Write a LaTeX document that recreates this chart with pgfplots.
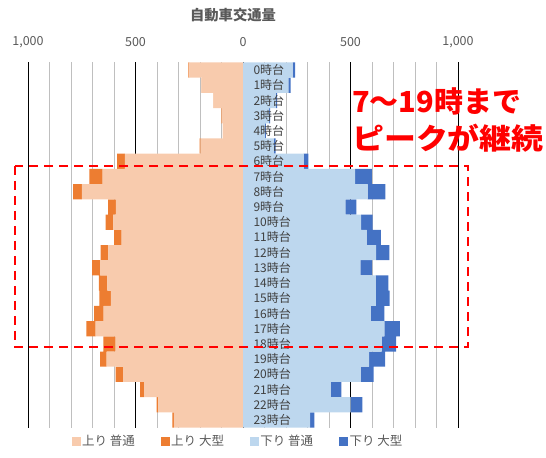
\documentclass[border=0pt]{standalone}
\usepackage{pgfplots}
\pgfplotsset{compat=1.18}
\usepackage{pgfplotstable}
\usepackage{fontspec}
\setmainfont{Noto Sans CJK JP}
\definecolor{upn}{HTML}{F8CBAD}
\definecolor{upl}{HTML}{ED7D31}
\definecolor{dnn}{HTML}{BDD7EE}
\definecolor{dnl}{HTML}{4472C4}
\definecolor{txt}{HTML}{595959}
\definecolor{lab}{HTML}{404040}
\definecolor{gridc}{HTML}{BFBFBF}
\pgfplotstableread{
h un ul dn dl
0 250 4 231 12
1 190 3 211 11
2 135 2 153 6
3 100 2 122 4
4 92 2 102 4
5 197 5 144 8
6 549 36 282 22
7 653 62 521 78
8 750 40 580 82
9 591 36 476 51
10 603 36 549 54
11 564 36 575 66
12 626 36 619 62
13 665 37 546 54
14 631 39 617 59
15 615 53 618 64
16 648 45 594 64
17 685 43 657 73
18 592 57 645 67
19 634 31 587 74
20 557 35 547 60
21 460 19 408 50
22 394 8 501 54
23 321 8 312 20
}\traffic
\begin{document}
\begin{tikzpicture}
\path[use as bounding box] (0bp,0bp) rectangle (546bp,458bp);
\pgfplotsset{
  common/.style={
    at={(28bp,30.4bp)}, anchor=south west,
    scale only axis, width=430bp, height=365.2bp,
    xmin=-1000, xmax=1000, ymin=-0.5, ymax=23.5, y dir=reverse,
    xbar stacked, bar width=1,
    axis line style={draw=none},
    major tick length=0, minor tick length=0,
    /pgf/number format/assume math mode=true,
  }
}
\begin{axis}[common,
  xtick={-500,0,500},
  xticklabels={500,0,500},
  minor xtick={-900,-800,-700,-600,-400,-300,-200,-100,100,200,300,400,600,700,800,900},
  xticklabel pos=upper,
  xticklabel style={anchor=center, yshift=20.4bp, font=\fontsize{12.5bp}{14bp}\selectfont, text=txt},
  xmajorgrids, xminorgrids,
  major grid style={draw=black, line width=0.8bp},
  minor grid style={draw=gridc, line width=0.9bp},
  extra x ticks={-1000,1000},
  extra x tick labels={1{,}000,1{,}000},
  extra x tick style={grid style={draw=gray, line width=1.6bp}},
  ytick=\empty,
]
\addplot[fill=upn, draw=none] table[x expr=-\thisrow{un}, y=h]{\traffic};
\addplot[fill=upl, draw=none] table[x expr=-\thisrow{ul}, y=h]{\traffic};
\end{axis}
\begin{axis}[common,
  axis on top,
  xtick=\empty,
  ytick={0,...,23},
  yticklabels={0時台,1時台,2時台,3時台,4時台,5時台,6時台,7時台,8時台,9時台,10時台,11時台,12時台,13時台,14時台,15時台,16時台,17時台,18時台,19時台,20時台,21時台,22時台,23時台},
  yticklabel style={anchor=west, xshift=222bp, font=\fontsize{12bp}{13bp}\selectfont, text=lab},
  legend columns=4,
  legend style={at={(0.5,0)}, anchor=north, xshift=-5bp, yshift=-3bp, draw=none, fill=none,
    font=\fontsize{12.5bp}{14bp}\selectfont, text=txt,
    /tikz/every even column/.append style={column sep=24bp}},
]
\addplot[fill=dnn, draw=none, forget plot] table[x=dn, y=h]{\traffic};
\addplot[fill=dnl, draw=none, forget plot] table[x=dl, y=h]{\traffic};
\addlegendimage{legend image code/.code={\fill[upn] (0bp,-4bp) rectangle (8bp,4bp);}}
\addlegendentry{上り 普通}
\addlegendimage{legend image code/.code={\fill[upl] (0bp,-4bp) rectangle (8bp,4bp);}}
\addlegendentry{上り 大型}
\addlegendimage{legend image code/.code={\fill[dnn] (0bp,-4bp) rectangle (8bp,4bp);}}
\addlegendentry{下り 普通}
\addlegendimage{legend image code/.code={\fill[dnl] (0bp,-4bp) rectangle (8bp,4bp);}}
\addlegendentry{下り 大型}
\end{axis}
\node[text=txt, font=\fontsize{14.3bp}{16bp}\selectfont\bfseries] at (233bp,443bp) {自動車交通量};
\draw[red, line width=2.8bp, dash pattern=on 9bp off 6bp] (15bp,292bp) rectangle (468bp,111bp);
\node[anchor=west, inner sep=0pt, text=red, font=\fontsize{29bp}{32bp}\selectfont\bfseries] at (352bp,357bp) {7～19時まで};
\node[anchor=west, inner sep=0pt, text=red, font=\fontsize{29bp}{32bp}\selectfont\bfseries, xscale=1.1, transform shape] at (352bp,320bp) {ピークが継続};
\end{tikzpicture}
\end{document}
